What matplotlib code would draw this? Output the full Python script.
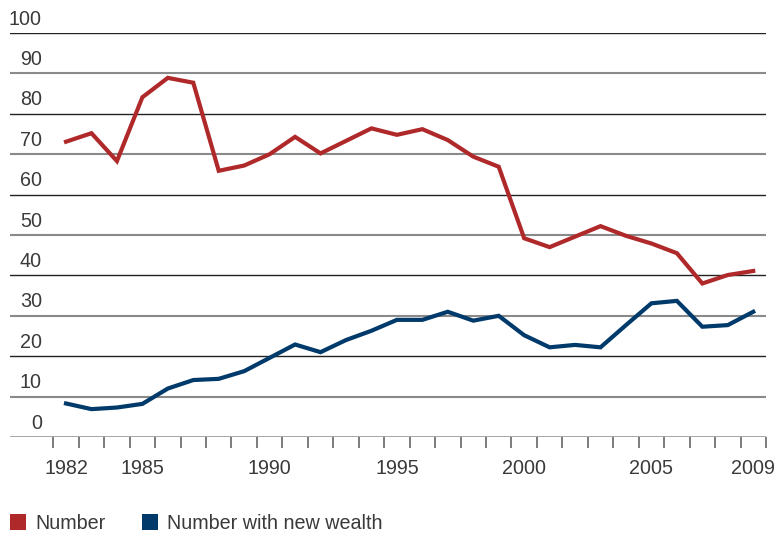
import matplotlib
matplotlib.use("Agg")
import matplotlib.pyplot as plt
import matplotlib.transforms as mtransforms
from matplotlib.patches import Patch

# Datos
years = list(range(1982, 2010))
number = [73.1, 75.2, 68.3, 84.1, 88.9, 87.7, 65.9, 67.2, 70.0, 74.3,
          70.2, 73.3, 76.4, 74.8, 76.2, 73.5, 69.4, 66.9, 49.2, 47.0,
          49.6, 52.2, 49.8, 47.9, 45.5, 38.0, 40.1, 41.1]
new_wealth = [8.3, 6.9, 7.3, 8.2, 12.0, 14.1, 14.4, 16.3, 19.6, 22.9,
              21.0, 24.0, 26.3, 29.0, 29.0, 31.0, 28.8, 30.0, 25.2, 22.2,
              22.8, 22.2, 27.7, 33.1, 33.7, 27.3, 27.7, 31.0]
y_levels = [0, 10, 20, 30, 40, 50, 60, 70, 80, 90, 100]
x_labels = [1982, 1985, 1990, 1995, 2000, 2005, 2009]

red = "#b0292a"
blue = "#003a6b"
txt = "#3a3a3a"
fs = 14.2

plt.rcParams["font.family"] = ["Liberation Sans", "DejaVu Sans"]

fig = plt.figure(figsize=(7.77, 5.37), dpi=100)
ax = fig.add_axes([0.0129, 0.1862, 0.9729, 0.7523])
ax.set_xlim(1979.8, 2009.5)
ax.set_ylim(0, 100)

# líneas de rejilla alternas (oscuras / grises)
trans = mtransforms.blended_transform_factory(ax.transAxes, ax.transData)
for v in y_levels:
    if v == 0:
        ax.axhline(v, color="#8a8a8a", lw=1.8, zorder=1)
    elif v % 20 == 0:
        ax.axhline(v, color="#222222", lw=1.0, zorder=1)
    else:
        ax.axhline(v, color="#8a8a8a", lw=1.5, zorder=1)
    ax.text(0.0423, v + 1.1, str(v), transform=trans, ha="right", va="bottom",
            fontsize=fs, color=txt)

ax.plot(years, number, color=red, lw=3.0, solid_joinstyle="miter", zorder=3)
ax.plot(years, new_wealth, color=blue, lw=3.0, solid_joinstyle="miter", zorder=3)

for s in ax.spines.values():
    s.set_visible(False)
ax.set_yticks([])

# marcas en los límites de cada año, etiquetas centradas
ax.set_xticks([y + 0.5 for y in range(1981, 2010)])
ax.set_xticklabels([])
ax.tick_params(axis="x", which="major", length=8, width=1.2, color="#666666",
               direction="out")
ax.set_xticks(x_labels, minor=True)
ax.set_xticklabels([str(x) for x in x_labels], minor=True)
ax.tick_params(axis="x", which="minor", length=0, pad=16, labelsize=fs,
               labelcolor=txt)

handles = [Patch(facecolor=red, edgecolor="none", label="Number"),
           Patch(facecolor=blue, edgecolor="none", label="Number with new wealth")]
fig.legend(handles=handles, loc="lower left", bbox_to_anchor=(-0.002, -0.014),
           ncol=2, frameon=False, fontsize=fs, labelcolor=txt,
           handlelength=0.82, handleheight=0.82, handletextpad=0.45,
           columnspacing=1.85, borderaxespad=0.2)

fig.savefig("out.png", dpi=100)
plt.close()
